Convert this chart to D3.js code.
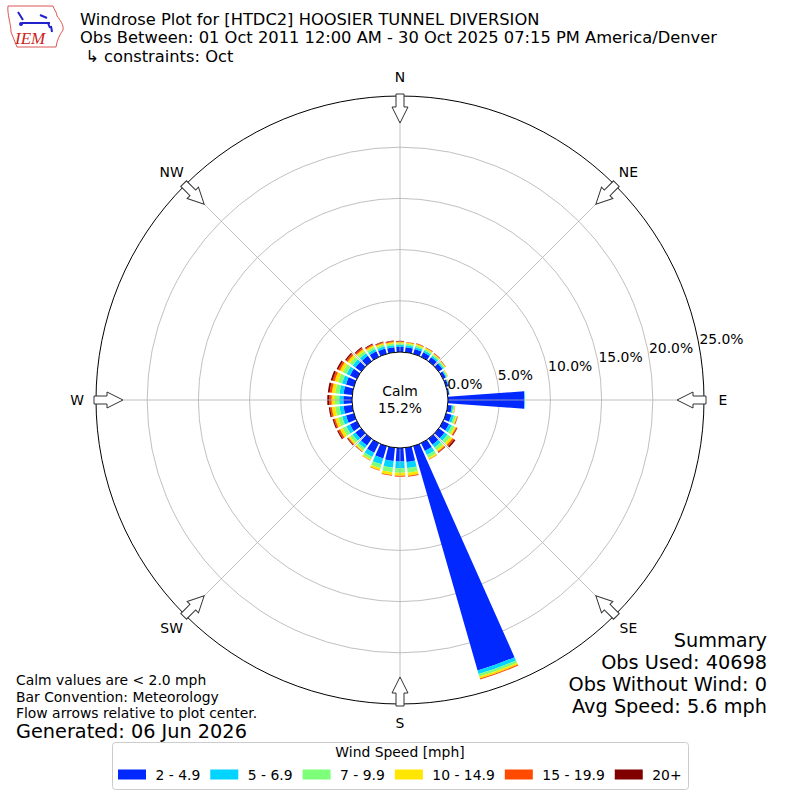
<!DOCTYPE html>
<html>
<head>
<meta charset="utf-8">
<script src="https://cdn.jsdelivr.net/npm/d3@7"></script>
<style>
  body { margin: 0; background: #fff; }
  svg { font-family: "DejaVu Sans", sans-serif; }
</style>
</head>
<body>
<svg id="chart" width="800" height="800"></svg>
<script>
// direction bins (degrees, meteorological convention)
var directions = [0, 10, 20, 30, 40, 50, 60, 70, 80, 90, 100, 110, 120, 130, 140, 150, 160, 170,
                  180, 190, 200, 210, 220, 230, 240, 250, 260, 270, 280, 290, 300, 310, 320, 330, 340, 350];

// frequency (%) per speed bin for each direction above
var s2to5   = [0.50, 0.50, 0.50, 0.50, 0.48, 0.45, 0.30, 0.22, 0.15, 7.45, 0.40, 0.55, 0.65, 0.70, 0.70, 0.85, 22.80, 1.40,
               1.33, 1.30, 1.25, 1.05, 0.80, 0.70, 0.75, 0.80, 0.85, 0.85, 0.85, 0.80, 0.75, 0.70, 0.65, 0.60, 0.55, 0.50];
var s5to7   = [0.20, 0.20, 0.20, 0.20, 0.18, 0.15, 0.10, 0.06, 0.03, 0.06, 0.15, 0.25, 0.30, 0.35, 0.35, 0.45, 0.35, 0.60,
               0.65, 0.65, 0.60, 0.45, 0.35, 0.35, 0.40, 0.40, 0.40, 0.40, 0.40, 0.40, 0.38, 0.33, 0.30, 0.25, 0.22, 0.20];
var s7to10  = [0.15, 0.15, 0.17, 0.16, 0.15, 0.12, 0.08, 0.04, 0.02, 0.00, 0.10, 0.20, 0.28, 0.35, 0.30, 0.30, 0.25, 0.45,
               0.43, 0.45, 0.40, 0.25, 0.25, 0.30, 0.40, 0.40, 0.42, 0.42, 0.42, 0.40, 0.38, 0.33, 0.28, 0.22, 0.18, 0.17];
var s10to15 = [0.12, 0.10, 0.12, 0.12, 0.10, 0.08, 0.05, 0.03, 0.01, 0.00, 0.06, 0.12, 0.18, 0.25, 0.20, 0.15, 0.20, 0.30,
               0.30, 0.28, 0.20, 0.12, 0.12, 0.18, 0.30, 0.30, 0.33, 0.32, 0.33, 0.35, 0.33, 0.28, 0.22, 0.18, 0.15, 0.13];
var s15to20 = [0.08, 0.05, 0.06, 0.05, 0.05, 0.04, 0.02, 0.01, 0.00, 0.00, 0.03, 0.06, 0.10, 0.20, 0.10, 0.05, 0.10, 0.10,
               0.10, 0.08, 0.05, 0.03, 0.05, 0.10, 0.18, 0.15, 0.17, 0.23, 0.22, 0.22, 0.20, 0.18, 0.15, 0.12, 0.10, 0.10];
var s20plus = [0.05, 0.02, 0.02, 0.02, 0.02, 0.01, 0.00, 0.00, 0.00, 0.00, 0.00, 0.02, 0.05, 0.15, 0.05, 0.00, 0.00, 0.00,
               0.00, 0.00, 0.00, 0.00, 0.03, 0.07, 0.12, 0.12, 0.13, 0.20, 0.18, 0.18, 0.16, 0.13, 0.10, 0.08, 0.05, 0.05];

var speedLabels = ['2 - 4.9', '5 - 6.9', '7 - 9.9', '10 - 14.9', '15 - 19.9', '20+'];
var speedColors = ['#0028ff', '#00d4ff', '#7dff7a', '#ffe600', '#ff4a00', '#800000'];

var radialTicks = [0, 5, 10, 15, 20, 25];
var compassLabels = ['N', 'NE', 'E', 'SE', 'S', 'SW', 'W', 'NW'];
var compassAngles = [0, 45, 90, 135, 180, 225, 270, 315];

var calmPct = 15.2;
var titleLines = ['Windrose Plot for [HTDC2] HOOSIER TUNNEL DIVERSION',
                  'Obs Between: 01 Oct 2011 12:00 AM - 30 Oct 2025 07:15 PM America/Denver',
                  ' \u21b3 constraints: Oct'];
var summaryLines = ['Summary', 'Obs Used: 40698', 'Obs Without Wind: 0', 'Avg Speed: 5.6 mph'];
var noteLines = ['Calm values are < 2.0 mph', 'Bar Convention: Meteorology', 'Flow arrows relative to plot center.'];

var svg = d3.select('#chart');
var cx = 400, cy = 400;
var smallFont = '13.9px';

/* radial scale: 0% starts at the calm circle */
var r = d3.scaleLinear().domain([0, 25]).range([48, 304]);
var ang = d3.scaleLinear().domain([0, 360]).range([0, 2 * Math.PI]);

var plot = svg.append('g').attr('transform', 'translate(' + cx + ',' + cy + ')');

// grid circles
plot.selectAll('circle.grid')
  .data(radialTicks.slice(1, -1))
  .enter().append('circle')
  .attr('r', function(d) { return r(d); })
  .attr('fill', 'none')
  .attr('stroke', '#b0b0b0')
  .attr('stroke-width', 0.8);

// stacked bars
var keys = speedLabels;
var rows = directions.map(function(dir, i) {
  var o = { dir: dir };
  [s2to5, s5to7, s7to10, s10to15, s15to20, s20plus].forEach(function(arr, k) { o[keys[k]] = arr[i]; });
  return o;
});
var stacked = d3.stack().keys(keys)(rows);
var halfWidth = ang(4);

var arc = d3.arc()
  .innerRadius(function(d) { return r(d[0]); })
  .outerRadius(function(d) { return r(d[1]); })
  .startAngle(function(d) { return ang(d.data.dir) - halfWidth; })
  .endAngle(function(d) { return ang(d.data.dir) + halfWidth; });

plot.selectAll('g.layer')
  .data(stacked)
  .enter().append('g')
  .attr('fill', function(d, i) { return speedColors[i]; })
  .selectAll('path')
  .data(function(d) { return d.filter(function(s) { return s[1] - s[0] > 0; }); })
  .enter().append('path')
  .attr('d', arc);

// radial grid lines (over the bars)
plot.selectAll('line.spoke')
  .data(compassAngles)
  .enter().append('line')
  .attr('x1', 0).attr('y1', 0)
  .attr('x2', function(d) { return r(25) * Math.sin(ang(d)); })
  .attr('y2', function(d) { return -r(25) * Math.cos(ang(d)); })
  .attr('stroke', '#b0b0b0')
  .attr('stroke-width', 0.8);

// outer frame
plot.append('circle')
  .attr('r', r(25))
  .attr('fill', 'none')
  .attr('stroke', '#000')
  .attr('stroke-width', 1);

// calm circle
plot.append('circle')
  .attr('r', r(0))
  .attr('fill', '#fff')
  .attr('stroke', '#000')
  .attr('stroke-width', 1);

plot.append('text')
  .attr('text-anchor', 'middle')
  .attr('y', -4)
  .style('font-size', smallFont)
  .text('Calm');
plot.append('text')
  .attr('text-anchor', 'middle')
  .attr('y', 13)
  .style('font-size', smallFont)
  .text(calmPct.toFixed(1) + '%');

// radial tick labels at 80 deg
var labAng = ang(80);
plot.selectAll('text.rtick')
  .data(radialTicks)
  .enter().append('text')
  .attr('x', function(d) { return r(d) * Math.sin(labAng); })
  .attr('y', function(d) { return -r(d) * Math.cos(labAng) - 3; })
  .style('font-size', smallFont)
  .text(function(d) { return d.toFixed(1) + '%'; });

// flow arrows pointing inward
var arrowPath = 'M-4,-306 L4,-306 L4,-293 L8,-293 L0,-277 L-8,-293 L-4,-293 Z';
plot.selectAll('path.arrow')
  .data(compassAngles)
  .enter().append('path')
  .attr('d', arrowPath)
  .attr('transform', function(d) { return 'rotate(' + d + ')'; })
  .attr('fill', '#fff')
  .attr('stroke', '#333')
  .attr('stroke-width', 1);

// compass labels
plot.selectAll('text.compass')
  .data(compassLabels)
  .enter().append('text')
  .attr('x', function(d, i) { return 323 * Math.sin(ang(compassAngles[i])); })
  .attr('y', function(d, i) { return -323 * Math.cos(ang(compassAngles[i])) + 5; })
  .attr('text-anchor', 'middle')
  .style('font-size', smallFont)
  .text(function(d) { return d; });

// title block
svg.selectAll('text.title')
  .data(titleLines)
  .enter().append('text')
  .attr('x', 80)
  .attr('y', function(d, i) { return 25 + i * 18.3; })
  .style('font-size', '16.3px')
  .style('white-space', 'pre')
  .text(function(d) { return d; });

// logo (rough IEM mark)
var logo = svg.append('g');
logo.append('path')
  .attr('d', 'M8,6 L53,6 C54,10 57,12 57,16 C60,20 64,25 63,30 C60,34 57,40 56,47 L17,47 C15,42 13,37 11,32 C11,24 7,14 8,6 Z')
  .attr('fill', '#fff')
  .attr('stroke', '#d55')
  .attr('stroke-width', 1);
logo.append('line').attr('x1', 22).attr('y1', 23).attr('x2', 50).attr('y2', 23)
  .attr('stroke', '#22c').attr('stroke-width', 2);
logo.append('circle').attr('cx', 21).attr('cy', 24).attr('r', 2).attr('fill', '#22c');
logo.append('path').attr('d', 'M18,12 L23,20 M40,15 L47,18 M48,23 L50,28 M51,26 L52,32')
  .attr('stroke', '#22c').attr('stroke-width', 2).attr('fill', 'none');
logo.append('text')
  .attr('x', 15).attr('y', 44)
  .style('font-family', '"Liberation Serif", serif')
  .style('font-style', 'italic')
  .style('font-size', '17px')
  .attr('fill', '#c22')
  .text('IEM');

// summary
svg.selectAll('text.summary')
  .data(summaryLines)
  .enter().append('text')
  .attr('x', 767)
  .attr('y', function(d, i) { return 647 + i * 22; })
  .attr('text-anchor', 'end')
  .style('font-size', '19.3px')
  .text(function(d) { return d; });

// notes
svg.selectAll('text.note')
  .data(noteLines)
  .enter().append('text')
  .attr('x', 16)
  .attr('y', function(d, i) { return 685 + i * 16.5; })
  .style('font-size', smallFont)
  .text(function(d) { return d; });
svg.append('text')
  .attr('x', 16).attr('y', 738)
  .style('font-size', '19.3px')
  .text('Generated: 06 Jun 2026');

// legend
var legend = svg.append('g');
legend.append('rect')
  .attr('x', 112.5).attr('y', 742.5)
  .attr('width', 576).attr('height', 47)
  .attr('rx', 3)
  .attr('fill', '#fff')
  .attr('stroke', '#ccc');
legend.append('text')
  .attr('x', 400).attr('y', 757)
  .attr('text-anchor', 'middle')
  .style('font-size', smallFont)
  .text('Wind Speed [mph]');

var lx = 118;
speedLabels.forEach(function(lab, i) {
  legend.append('rect')
    .attr('x', lx).attr('y', 769.5)
    .attr('width', 28).attr('height', 10)
    .attr('fill', speedColors[i]);
  var t = legend.append('text')
    .attr('x', lx + 37.5).attr('y', 779.5)
    .style('font-size', smallFont)
    .text(lab);
  lx += 37.5 + t.node().getComputedTextLength() + 10;
});
</script>
</body>
</html>
